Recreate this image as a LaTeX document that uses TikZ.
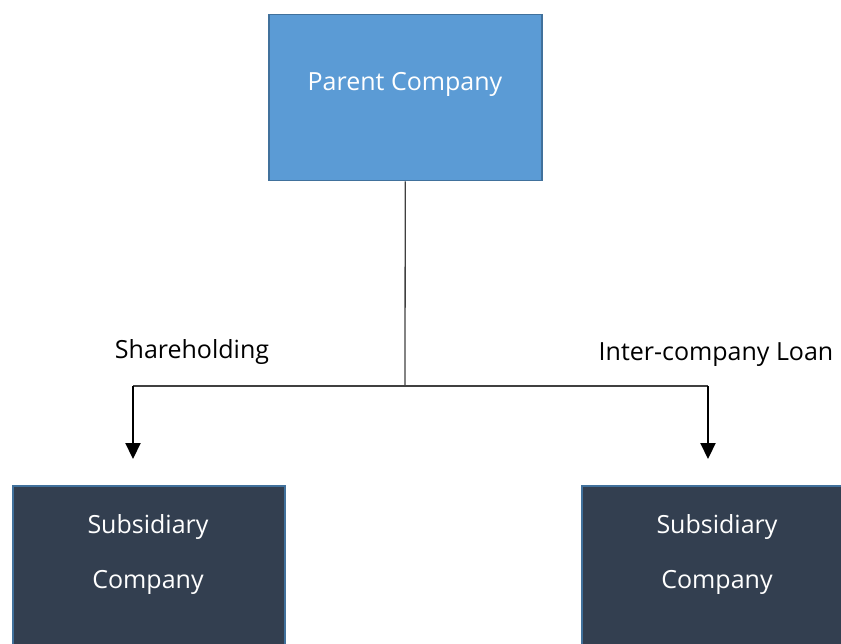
\documentclass[tikz,border=0pt]{standalone}
\usepackage{fontspec}
\setmainfont{Open Sans}
\usetikzlibrary{arrows.meta}
\definecolor{parentfill}{HTML}{5B9BD5}
\definecolor{boxedge}{HTML}{41719C}
\definecolor{subfill}{HTML}{333F50}
\tikzset{
  company/.style={draw=boxedge, line width=1.5pt, inner sep=0pt, anchor=north west},
  boxtext/.style={text=white, font=\fontsize{25}{30}\selectfont, inner sep=0pt},
  link/.style={draw=black!75, line width=1.3pt},
  flow/.style={draw=black, line width=2.2pt, -{Triangle[width=15pt,length=16pt]}},
  flowlabel/.style={font=\fontsize{25}{30}\selectfont, text=black, inner sep=0pt}
}
\begin{document}
\begin{tikzpicture}[x=1pt,y=-1pt]
  \useasboundingbox (0,0) rectangle (841,644);
  \clip (0,0) rectangle (841,644);
  % parent box
  \node[company, fill=parentfill, minimum width=273pt, minimum height=166pt] (parent) at (268,14) {};
  \node[boxtext] (ptext) at (405,84) {Parent Company};
  % subsidiary boxes (run past the lower edge)
  \node[company, fill=subfill, minimum width=272pt, minimum height=180pt] (subL) at (12,485) {};
  \node[company, fill=subfill, minimum width=272pt, minimum height=180pt] (subR) at (581,485) {};
  \node[boxtext] (sL1) at (148,527) {Subsidiary};
  \node[boxtext] (sL2) at (148,582) {Company};
  \node[boxtext] (sR1) at (717,527) {Subsidiary};
  \node[boxtext] (sR2) at (717,582) {Company};
  % connector tree
  \coordinate (hub) at (405,386);
  \coordinate (bendL) at (133,386);
  \coordinate (bendR) at (708,386);
  \coordinate (tipL) at (133,459);
  \coordinate (tipR) at (708,459);
  \draw[link] (parent.south) -- (hub);
  \draw[link] (bendL) -- (bendR);
  \draw[flow] (bendL) -- (tipL);
  \draw[flow] (bendR) -- (tipR);
  % labels
  \node[flowlabel] (share) at (192,352) {Shareholding};
  \node[flowlabel] (loan) at (716,355) {Inter-company Loan};
\end{tikzpicture}
\end{document}
